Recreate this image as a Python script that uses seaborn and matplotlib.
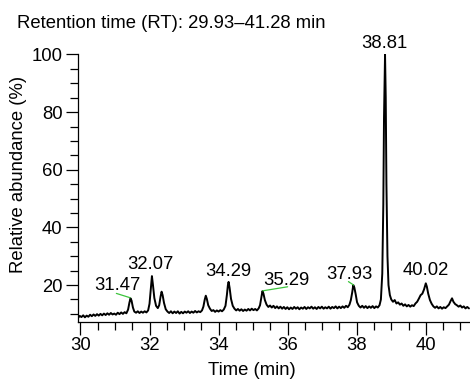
import numpy as np
import pandas as pd
import matplotlib
matplotlib.use("Agg")
import matplotlib.pyplot as plt
import seaborn as sns

# Chromatogram trace (time in min, relative abundance in %)
time_min = [
    29.93, 29.98, 30.03, 30.08, 30.13, 30.18, 30.23, 30.28, 30.33, 30.38,
    30.43, 30.48, 30.53, 30.58, 30.63, 30.68, 30.73, 30.78, 30.83, 30.88,
    30.93, 30.98, 31.03, 31.08, 31.13, 31.18, 31.23, 31.28, 31.33, 31.38,
    31.42, 31.45, 31.48, 31.52, 31.56, 31.61, 31.66, 31.71, 31.76, 31.81,
    31.86, 31.91, 31.96, 32.00, 32.04, 32.07, 32.10, 32.14, 32.19, 32.24,
    32.28, 32.32, 32.35, 32.38, 32.42, 32.47, 32.52, 32.57, 32.62, 32.67,
    32.72, 32.77, 32.82, 32.87, 32.92, 32.97, 33.02, 33.07, 33.12, 33.17,
    33.22, 33.27, 33.32, 33.37, 33.42, 33.47, 33.52, 33.56, 33.60, 33.63,
    33.66, 33.70, 33.75, 33.80, 33.85, 33.90, 33.95, 34.00, 34.05, 34.10,
    34.15, 34.20, 34.24, 34.27, 34.29, 34.32, 34.36, 34.41, 34.46, 34.51,
    34.56, 34.61, 34.66, 34.71, 34.76, 34.81, 34.86, 34.91, 34.96, 35.01,
    35.06, 35.11, 35.16, 35.20, 35.24, 35.27, 35.30, 35.34, 35.39, 35.44,
    35.49, 35.54, 35.59, 35.64, 35.69, 35.74, 35.79, 35.84, 35.89, 35.94,
    35.99, 36.04, 36.09, 36.14, 36.19, 36.24, 36.29, 36.34, 36.39, 36.44,
    36.49, 36.54, 36.59, 36.64, 36.69, 36.74, 36.79, 36.84, 36.89, 36.94,
    36.99, 37.04, 37.09, 37.14, 37.19, 37.24, 37.29, 37.34, 37.39, 37.44,
    37.49, 37.54, 37.59, 37.64, 37.69, 37.74, 37.79, 37.83, 37.87, 37.90,
    37.93, 37.97, 38.01, 38.06, 38.11, 38.16, 38.21, 38.26, 38.31, 38.36,
    38.41, 38.46, 38.51, 38.56, 38.61, 38.66, 38.70, 38.74, 38.77, 38.79,
    38.82, 38.84, 38.86, 38.89, 38.92, 38.96, 39.00, 39.05, 39.10, 39.15,
    39.20, 39.25, 39.30, 39.35, 39.40, 39.45, 39.50, 39.55, 39.60, 39.65,
    39.70, 39.75, 39.80, 39.85, 39.90, 39.95, 40.00, 40.03, 40.07, 40.12,
    40.17, 40.22, 40.27, 40.32, 40.37, 40.42, 40.47, 40.52, 40.57, 40.62,
    40.67, 40.72, 40.76, 40.80, 40.85, 40.90, 40.95, 41.00, 41.05, 41.10,
    41.15, 41.20, 41.25,
]
abundance = [
    8.6, 9.3, 8.9, 9.5, 8.8, 9.4, 9.0, 9.7, 9.2, 9.8,
    9.3, 9.9, 9.4, 10.0, 9.5, 10.1, 9.6, 10.2, 9.7, 10.3,
    9.8, 10.1, 9.7, 10.4, 9.9, 10.5, 10.0, 10.6, 10.2, 11.5,
    14.0, 15.4, 14.6, 12.2, 10.8, 10.4, 10.9, 10.3, 10.8, 10.4,
    10.9, 10.5, 11.2, 13.5, 19.0, 23.1, 20.0, 15.5, 12.8, 12.0,
    13.0, 16.0, 17.7, 16.5, 13.8, 11.6, 10.8, 10.3, 10.9, 10.2,
    10.8, 10.3, 10.9, 10.1, 10.7, 10.2, 10.8, 10.4, 10.9, 10.3,
    10.8, 10.4, 11.0, 10.5, 10.9, 10.6, 11.2, 12.5, 15.0, 16.3,
    15.2, 13.0, 11.8, 11.0, 11.3, 10.7, 11.2, 10.8, 11.3, 10.9,
    11.5, 12.8, 16.5, 20.0, 21.1, 19.0, 15.2, 12.8, 11.8, 11.2,
    11.7, 11.1, 11.6, 11.0, 11.5, 11.1, 11.7, 11.2, 11.8, 11.3,
    11.7, 11.2, 11.9, 13.0, 15.8, 17.9, 17.0, 14.8, 13.2, 12.4,
    12.9, 12.2, 12.8, 12.0, 12.6, 11.9, 12.5, 11.8, 12.4, 11.7,
    12.3, 11.6, 12.2, 11.7, 12.4, 11.8, 12.3, 11.6, 12.2, 11.8,
    12.4, 11.7, 12.3, 11.9, 12.5, 11.8, 12.3, 11.7, 12.4, 11.9,
    12.5, 11.8, 12.3, 11.9, 12.5, 11.8, 12.4, 12.0, 12.6, 11.9,
    12.5, 12.0, 12.6, 12.1, 12.8, 12.3, 13.2, 14.8, 17.5, 20.0,
    19.2, 16.8, 14.0, 12.8, 12.2, 12.8, 12.1, 12.7, 12.0, 12.6,
    12.1, 12.7, 12.0, 12.6, 12.2, 13.0, 15.0, 24.0, 48.0, 78.0,
    100.0, 85.0, 55.0, 30.0, 20.0, 16.5, 15.0, 14.2, 14.8, 13.6,
    14.0, 13.2, 13.6, 12.8, 13.3, 12.6, 13.1, 12.5, 13.0, 12.7,
    13.6, 14.2, 15.3, 16.5, 17.0, 18.5, 20.6, 19.5, 17.0, 14.8,
    13.5, 12.6, 12.1, 12.6, 11.9, 12.4, 11.8, 12.3, 12.0, 12.6,
    13.2, 14.5, 15.4, 14.2, 13.4, 13.0, 12.5, 12.9, 12.2, 12.6,
    11.9, 12.4, 11.9,
]

# Peak annotations: label text, label centre (t, y), and peak apex it points to
peak_labels = ["31.47", "32.07", "34.29", "35.29", "37.93", "38.81", "40.02"]
label_t = [31.06, 32.03, 34.28, 35.95, 37.78, 38.79, 40.00]
label_y = [19.8, 27.0, 24.7, 21.7, 23.6, 103.9, 25.2]
# green leader lines (start at label, end at peak); None = no leader
leader_from = [(31.04, 17.1), None, None, (36.0, 19.4), (37.76, 21.2), None, None]
leader_to = [(31.44, 15.6), None, None, (35.28, 18.0), (37.91, 20.0), None, None]

title_text = "Retention time (RT): 29.93\u201341.28 min"


def main():
    sns.set_style("ticks")
    plt.rcParams["font.family"] = ["Liberation Sans", "DejaVu Sans"]
    plt.rcParams["font.size"] = 13.3
    for k in ["text.color", "axes.labelcolor", "xtick.color", "ytick.color", "axes.edgecolor"]:
        plt.rcParams[k] = "black"

    df = pd.DataFrame({"t": time_min, "ab": abundance})

    fig = plt.figure(figsize=(4.7, 3.81), dpi=100)
    ax = fig.add_axes([0.166, 0.155, 0.834, 0.702])

    sns.lineplot(data=df, x="t", y="ab", ax=ax, color="black", linewidth=1.4,
                 estimator=None, sort=False)

    ax.set_xlim(29.93, 41.28)
    ax.set_ylim(7.2, 100)
    ax.set_xticks(np.arange(30, 41, 2))
    ax.set_xticks(np.arange(30, 41.3, 0.5), minor=True)
    ax.set_yticks(np.arange(20, 101, 20))
    ax.set_yticks(np.arange(10, 101, 5), minor=True)
    ax.tick_params(axis="both", which="major", length=9, width=0.9,
                   labelsize=13.3, colors="black", direction="out", pad=2)
    ax.tick_params(axis="both", which="minor", length=6, width=0.9,
                   colors="black", direction="out")
    ax.set_xlabel("")
    ax.set_ylabel("")
    sns.despine(ax=ax)
    for s in ["left", "bottom"]:
        ax.spines[s].set_linewidth(0.9)
        ax.spines[s].set_color("black")

    # peak labels and leader lines
    for lab, tx, ty, p0, p1 in zip(peak_labels, label_t, label_y, leader_from, leader_to):
        ax.text(tx, ty, lab, ha="center", va="center", fontsize=13.3,
                color="black", clip_on=False)
        if p0 is not None:
            ax.plot([p0[0], p1[0]], [p0[1], p1[1]], color="#3cc43c", lw=0.9)

    fig.text(17 / 470, 1 - 23 / 381, title_text, ha="left", va="center",
             fontsize=13.3, color="black")
    fig.text(18.5 / 470, 1 - 174 / 381, "Relative abundance (%)", rotation=90,
             ha="center", va="center", fontsize=13.3, color="black")
    fig.text(251.7 / 470, 1 - 370.5 / 381, "Time (min)", ha="center", va="center",
             fontsize=13.3, color="black")

    fig.savefig("out.png", dpi=100)
    plt.close(fig)


if __name__ == "__main__":
    main()
